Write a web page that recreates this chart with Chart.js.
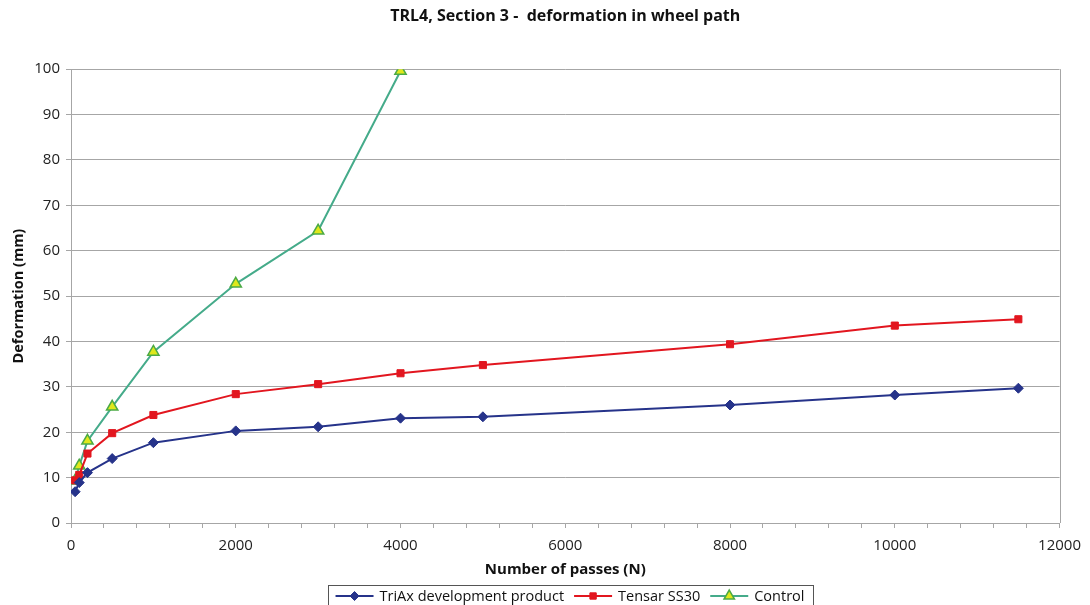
<!DOCTYPE html>
<html>
<head>
<meta charset="utf-8">
<script src="https://cdn.jsdelivr.net/npm/chart.js@4.4.1/dist/chart.umd.min.js"></script>
<style>
  html, body { margin: 0; padding: 0; background: #fff; }
  #wrap { width: 1090px; height: 605px; }
</style>
</head>
<body>
<div id="wrap"><canvas id="c" width="1090" height="605"></canvas></div>
<script>
// ---- data ----
const passesLong = [50, 100, 200, 500, 1000, 2000, 3000, 4000, 5000, 8000, 10000, 11500];
const passesControl = [50, 100, 200, 500, 1000, 2000, 3000, 4000];
const triaxValues = [6.9, 8.9, 11.1, 14.2, 17.7, 20.3, 21.2, 23.1, 23.4, 26.0, 28.2, 29.7];
const tensarValues = [9.4, 10.6, 15.3, 19.8, 23.8, 28.4, 30.6, 33.0, 34.8, 39.4, 43.5, 44.9];
const controlValues = [9.3, 12.6, 18.1, 25.6, 37.7, 52.7, 64.4, 99.6];
const seriesNames = ['TriAx development product', 'Tensar SS30', 'Control'];
const titleText = 'TRL4, Section 3 -  deformation in wheel path';
const xTitle = 'Number of passes (N)';
const yTitle = 'Deformation (mm)';

const FONT = "'Open Sans', 'Noto Sans', sans-serif";
const GRID = '#a6a6a6';

function pts(xs, ys) { return xs.map((x, i) => ({ x: x, y: ys[i] })); }

const styles = [
  { line: '#26338a', fill: '#26338a', point: 'rectRot', radius: 5, bw: 1 },
  { line: '#e2161f', fill: '#e2161f', point: 'rect', radius: 5, bw: 1 },
  { line: '#45ab8a', fill: '#dfe81c', point: 'triangle', radius: 6.5, bw: 1.5, pborder: '#4caa45' }
];

const datasets = [
  { label: seriesNames[0], data: pts(passesLong, triaxValues) },
  { label: seriesNames[1], data: pts(passesLong, tensarValues) },
  { label: seriesNames[2], data: pts(passesControl, controlValues) }
].map((d, i) => Object.assign(d, {
  borderColor: styles[i].line,
  backgroundColor: styles[i].fill,
  borderWidth: 2,
  pointStyle: styles[i].point,
  pointRadius: styles[i].radius,
  pointHoverRadius: styles[i].radius,
  pointBackgroundColor: styles[i].fill,
  pointBorderColor: styles[i].pborder || styles[i].line,
  pointBorderWidth: styles[i].bw,
  tension: 0,
  fill: false
}));

function drawMarker(ctx, st, x, y) {
  ctx.save();
  ctx.fillStyle = st.fill;
  ctx.strokeStyle = st.pborder || st.line;
  ctx.lineWidth = st.bw;
  ctx.beginPath();
  const r = st.radius;
  if (st.point === 'rectRot') {
    ctx.moveTo(x, y - r); ctx.lineTo(x + r, y); ctx.lineTo(x, y + r); ctx.lineTo(x - r, y); ctx.closePath();
  } else if (st.point === 'rect') {
    const s = r * Math.SQRT1_2;
    ctx.rect(x - s, y - s, 2 * s, 2 * s);
  } else {
    const h = r * 0.866;
    ctx.moveTo(x, y - r); ctx.lineTo(x + h, y + r / 2); ctx.lineTo(x - h, y + r / 2); ctx.closePath();
  }
  ctx.fill(); ctx.stroke();
  ctx.restore();
}

const customLegend = {
  id: 'customLegend',
  afterDraw(chart) {
    const ctx = chart.ctx;
    ctx.save();
    ctx.font = '14.5px ' + FONT;
    const lineLen = 38, gap = 6, spacing = 10, pad = 8;
    const widths = seriesNames.map(t => ctx.measureText(t).width);
    const total = widths.reduce((a, w) => a + lineLen + gap + w, 0) + spacing * (seriesNames.length - 1);
    const cx = 570, cy = 596;
    let x = cx - total / 2;
    ctx.strokeStyle = '#555';
    ctx.lineWidth = 1;
    ctx.strokeRect(Math.round(x - pad) + 0.5, 585.5, Math.round(total + 2 * pad), 30);
    seriesNames.forEach((t, i) => {
      const st = styles[i];
      ctx.strokeStyle = st.line; ctx.lineWidth = 2;
      ctx.beginPath(); ctx.moveTo(x, cy); ctx.lineTo(x + lineLen, cy); ctx.stroke();
      drawMarker(ctx, Object.assign({}, st, { radius: st.radius - 0.5 }), x + lineLen / 2, cy);
      ctx.fillStyle = '#111'; ctx.textBaseline = 'middle'; ctx.textAlign = 'left';
      ctx.fillText(t, x + lineLen + gap, cy + 1);
      x += lineLen + gap + widths[i] + spacing;
    });
    ctx.restore();
  }
};

const plotBorder = {
  id: 'plotBorder',
  beforeDatasetsDraw(chart) {
    const a = chart.chartArea, ctx = chart.ctx;
    ctx.save();
    ctx.strokeStyle = GRID; ctx.lineWidth = 1;
    ctx.beginPath();
    ctx.moveTo(Math.round(a.right) + 0.5, a.top);
    ctx.lineTo(Math.round(a.right) + 0.5, a.bottom);
    ctx.stroke();
    ctx.restore();
  }
};

new Chart(document.getElementById('c'), {
  type: 'line',
  data: { datasets: datasets },
  plugins: [plotBorder, customLegend],
  options: {
    responsive: false,
    animation: false,
    layout: { padding: { left: 0, right: 27, top: 0, bottom: 22 } },
    plugins: {
      legend: { display: false },
      tooltip: { enabled: false },
      title: {
        display: true, text: titleText, color: '#111', fullSize: false,
        font: { family: FONT, size: 16, weight: 'bold' },
        padding: { top: 7, bottom: 43 }
      }
    },
    scales: {
      x: {
        type: 'linear', min: 0, max: 12000,
        afterFit(s) { s.height = 60; },
        ticks: {
          stepSize: 400, autoSkip: false, maxRotation: 0, padding: 9,
          color: '#222', font: { family: FONT, size: 15 },
          callback: v => (v % 2000 === 0 ? String(v) : '')
        },
        grid: { drawOnChartArea: false, drawTicks: true, tickLength: 5, color: GRID },
        border: { display: true, color: GRID },
        title: {
          display: true, text: xTitle, color: '#111',
          font: { family: FONT, size: 15, weight: 'bold' },
          padding: { top: 0, bottom: 4 }
        }
      },
      y: {
        min: 0, max: 100,
        afterFit(s) { s.width = 71; },
        ticks: { stepSize: 10, padding: 6, color: '#222', font: { family: FONT, size: 15 } },
        grid: { color: GRID, tickLength: 5 },
        border: { display: true, color: GRID },
        title: {
          display: true, text: yTitle, color: '#111',
          font: { family: FONT, size: 14.5, weight: 'bold' },
          padding: { top: 10, bottom: 0 }
        }
      }
    }
  }
});
</script>
</body>
</html>
